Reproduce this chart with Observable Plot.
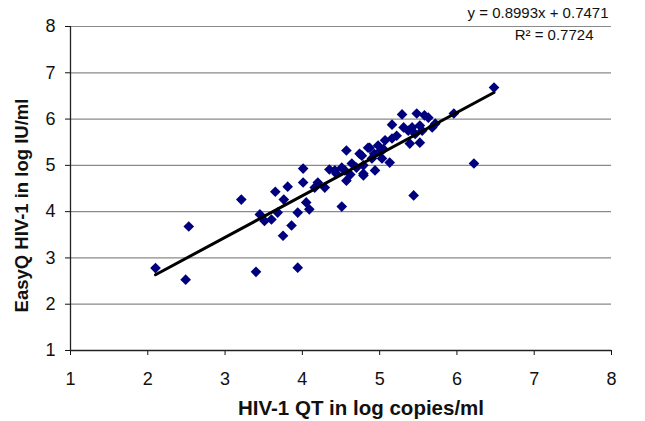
<!DOCTYPE html>
<html><head><meta charset="utf-8">
<script src="https://cdn.jsdelivr.net/npm/d3@7"></script>
<script src="https://cdn.jsdelivr.net/npm/@observablehq/plot@0.6"></script>
<style>body{margin:0;background:#fff}</style>
</head><body><div id="chart"></div>
<script>
const qtValues = [2.10,2.49,2.53,3.21,3.40,3.45,3.51,3.60,3.65,3.81,3.76,3.68,3.86,3.75,3.94,3.94,
4.01,4.01,4.09,4.05,4.16,4.20,4.29,4.35,4.44,4.51,4.57,4.57,4.51,4.64,4.77,4.79,4.87,4.98,5.13,5.07,
5.29,5.48,5.58,5.16,5.31,5.42,5.52,5.68,5.22,5.39,5.52,4.74,4.85,5.16,5.03,4.90,4.79,4.55,4.42,4.94,4.79,5.44,
6.48,5.96,5.63,5.72,5.55,5.46,5.37,6.22,4.62,4.70,5.00,5.05,4.93];
const easyqValues = [2.78,2.53,3.68,4.26,2.70,3.94,3.80,3.83,4.43,4.54,4.26,3.98,3.70,3.48,3.98,2.79,
4.93,4.63,4.05,4.20,4.52,4.63,4.52,4.91,4.82,4.95,5.32,4.67,4.11,5.04,5.21,4.82,5.38,5.43,5.06,5.54,
6.10,6.12,6.08,5.88,5.82,5.82,5.86,5.82,5.64,5.47,5.49,5.25,5.38,5.58,5.15,5.15,5.00,4.89,4.89,4.89,4.78,4.35,
6.68,6.12,6.03,5.90,5.75,5.68,5.75,5.04,4.80,4.95,5.30,5.35,5.25];
const slope = 0.8993, intercept = 0.7471;
const eqText = "y = 0.8993x + 0.7471";
const r2Text = "R² = 0.7724";
const ticks = [1,2,3,4,5,6,7,8];
const gridTicks = [2,3,4,5,6,7,8];
const xTitle = "HIV-1 QT in log copies/ml";
const yTitle = "EasyQ HIV-1 in log IU/ml";

const points = qtValues.map((x,i)=>({x, y: easyqValues[i]}));
const xExt = d3.extent(qtValues);
const fit = xExt.map(x=>({x, y: slope*x+intercept}));

const chart = Plot.plot({
  width: 645, height: 421,
  marginLeft: 70, marginRight: 34, marginTop: 26, marginBottom: 71,
  style: {fontFamily: "'Liberation Sans', Arial, sans-serif", fontSize: "18px", color: "#111", background: "#fff"},
  x: {domain: [1,8]},
  y: {domain: [1,8]},
  marks: [
    Plot.gridY(gridTicks, {stroke: "#8a8a8a", strokeOpacity: 1, strokeWidth: 1.2}),
    Plot.axisY(ticks, {tickSize: 5, tickPadding: 10, label: null, fontSize: 18}),
    Plot.axisX(ticks, {tickSize: 5, tickPadding: 17, label: null, fontSize: 18}),
    Plot.ruleY([1], {stroke: "#222", strokeWidth: 1.3}),
    Plot.ruleX([1], {stroke: "#222", strokeWidth: 1.3}),
    Plot.dot(points, {x: "x", y: "y", symbol: "diamond2", r: 4.8, fill: "#00007f", stroke: "none"}),
    Plot.line(fit, {x: "x", y: "y", stroke: "#000", strokeWidth: 3}),
    Plot.text([eqText], {frameAnchor: "top-right", dx: -3, dy: -9, lineAnchor: "bottom", text: d=>d, fontSize: 15, textAnchor: "end"}),
    Plot.text([r2Text], {frameAnchor: "top-right", dx: -18, dy: 13, lineAnchor: "bottom", text: d=>d, fontSize: 15, textAnchor: "end"}),
    Plot.text([xTitle], {frameAnchor: "bottom", dx: 20, dy: 64, lineAnchor: "bottom", text: d=>d, fontSize: 20.5, fontWeight: "bold"}),
    Plot.text([yTitle], {frameAnchor: "left", dx: -48, dy: 17, rotate: -90, textAnchor: "middle", text: d=>d, fontSize: 18.5, fontWeight: "bold"})
  ]
});
document.getElementById("chart").appendChild(chart);
</script>
</body></html>
